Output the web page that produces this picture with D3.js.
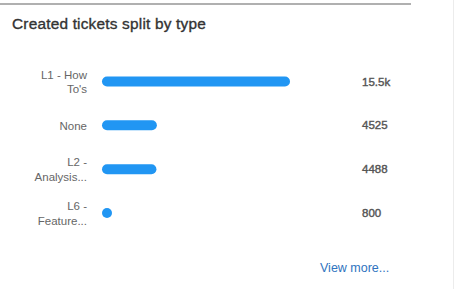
<!DOCTYPE html>
<html><head><meta charset="utf-8">
<script src="https://cdn.jsdelivr.net/npm/d3@7"></script>
<style>
html,body{margin:0;padding:0;background:#fff;}
svg{display:block;font-family:"Liberation Sans",Helvetica,Arial,sans-serif;}
</style></head>
<body>
<svg id="c" width="457" height="289"></svg>
<script>
const title = "Created tickets split by type";
const categories = ["L1 - How To's", "None", "L2 - Analysis...", "L6 - Feature..."];
const labelLines = [["L1 - How", "To's"], ["None"], ["L2 -", "Analysis..."], ["L6 -", "Feature..."]];
const values = [15500, 4525, 4488, 800];
const valueLabels = ["15.5k", "4525", "4488", "800"];
const linkText = "View more...";

const svg = d3.select("#c");

// frame
svg.append("line").attr("x1",0).attr("x2",411).attr("y1",4).attr("y2",4)
  .attr("stroke","#b0b0b0").attr("stroke-width",2);
svg.append("line").attr("x1",453.5).attr("x2",453.5).attr("y1",0).attr("y2",289)
  .attr("stroke","#ececec").attr("stroke-width",1);

svg.append("text").attr("x",12).attr("y",29).text(title)
  .attr("font-size",15.4).attr("letter-spacing",0.2).attr("fill","#333")
  .attr("stroke","#333").attr("stroke-width",0.35);

const x = d3.scaleLinear().domain([0, d3.max(values)]).range([0, 188]);
const y = d3.scalePoint().domain(categories).range([81.5, 213]);
const barH = 10, x0 = 102;

const g = svg.append("g");
g.selectAll("rect.bar").data(values).join("rect").attr("class","bar")
  .attr("x", x0)
  .attr("y", (d,i)=> y(categories[i]) - barH/2)
  .attr("width", d=> Math.max(barH, x(d)))
  .attr("height", barH)
  .attr("rx", barH/2).attr("ry", barH/2)
  .attr("fill","#2196f3");

g.selectAll("text.lab").data(labelLines).join("text").attr("class","lab")
  .attr("text-anchor","end").attr("font-size",11.5).attr("fill","#666")
  .each(function(lines,i){
    const cy = y(categories[i]);
    const n = lines.length, lh = 14.5;
    d3.select(this).selectAll("tspan").data(lines).join("tspan")
      .attr("x", 87)
      .attr("y", (l,j)=> cy + (j - (n-1)/2)*lh + 4.5)
      .text(l=>l);
  });

g.selectAll("text.val").data(valueLabels).join("text").attr("class","val")
  .attr("x", 362).attr("y",(d,i)=> y(categories[i]) + 4)
  .attr("font-size",11.5).attr("fill","#555")
  .attr("stroke","#555").attr("stroke-width",0.4)
  .text(d=>d);

svg.append("text").attr("x",320).attr("y",272).text(linkText)
  .attr("font-size",12.5).attr("fill","#2f74c0");
</script>
</body></html>
